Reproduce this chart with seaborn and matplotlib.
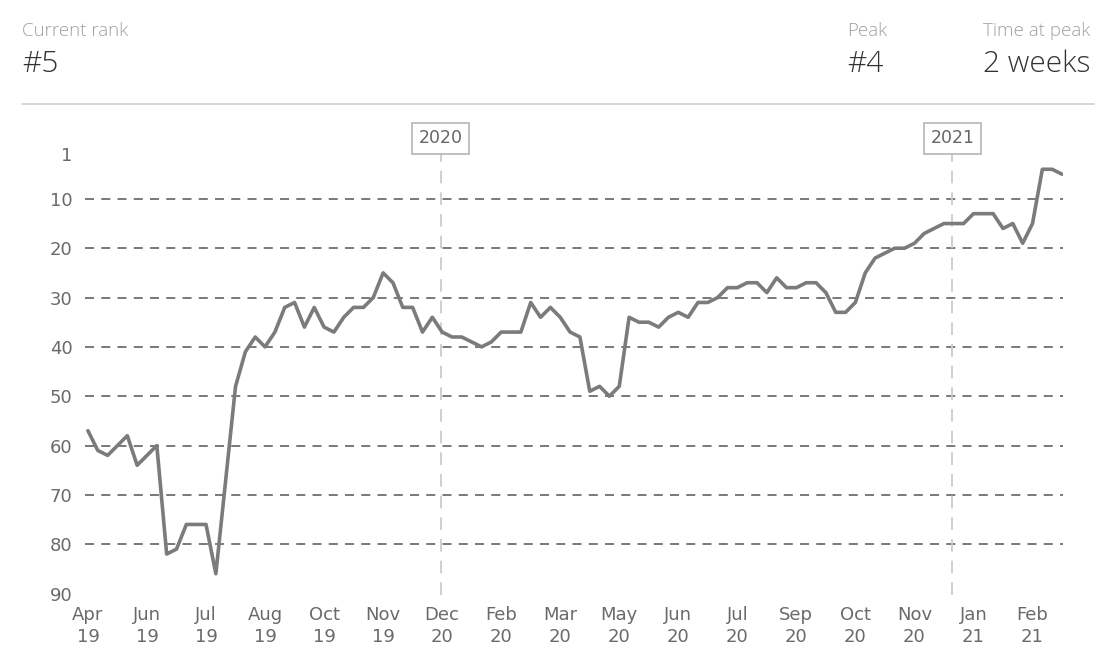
import matplotlib
matplotlib.use("Agg")
import matplotlib.pyplot as plt
import seaborn as sns
import pandas as pd

# ---- data ----
ranks = [57, 61, 62, 60, 58, 64, 62, 60, 82, 81,
         76, 76, 76, 86, 67, 48, 41, 38, 40, 37,
         32, 31, 36, 32, 36, 37, 34, 32, 32, 30,
         25, 27, 32, 32, 37, 34, 37, 38, 38, 39,
         40, 39, 37, 37, 37, 31, 34, 32, 34, 37,
         38, 49, 48, 50, 48, 34, 35, 35, 36, 34,
         33, 34, 31, 31, 30, 28, 28, 27, 27, 29,
         26, 28, 28, 27, 27, 29, 33, 33, 31, 25,
         22, 21, 20, 20, 19, 17, 16, 15, 15, 15,
         13, 13, 13, 16, 15, 19, 15, 4, 4, 5]
weeks = list(range(len(ranks)))
tick_labels = ["Apr\n19", "Jun\n19", "Jul\n19", "Aug\n19", "Oct\n19", "Nov\n19",
               "Dec\n20", "Feb\n20", "Mar\n20", "May\n20", "Jun\n20", "Jul\n20",
               "Sep\n20", "Oct\n20", "Nov\n20", "Jan\n21", "Feb\n21"]
tick_positions = [i * 6 for i in range(len(tick_labels))]
year_labels = ["2020", "2021"]
year_positions = [35.85, 87.85]
y_ticks = [1, 10, 20, 30, 40, 50, 60, 70, 80, 90]
grid_ranks = [10, 20, 30, 40, 50, 60, 70, 80]

df = pd.DataFrame({"week": weeks, "rank": ranks})

sns.set_theme(style="white")
plt.rcParams["font.family"] = ["DejaVu Sans"]

fig = plt.figure(figsize=(11.07, 6.56), dpi=100)
ax = fig.add_axes([85 / 1107, 1 - 595 / 656, (1063 - 85) / 1107, (595 - 153) / 656])

for g in grid_ranks:
    ax.axhline(g, color="#6e6e6e", lw=1.3, ls=(0, (5, 4)), zorder=1)

for xp, lab in zip(year_positions, year_labels):
    ax.axvline(xp, color="#cccccc", lw=1.3, ls=(0, (7, 5)), zorder=1)
    ax.annotate(lab, xy=(xp, 1.0), xycoords=ax.get_xaxis_transform(),
                xytext=(0, 10.5), textcoords="offset points",
                ha="center", va="center", fontsize=12.5, color="#666666",
                bbox=dict(boxstyle="square,pad=0.38", fc="white", ec="#bbbbbb", lw=1.3),
                annotation_clip=False)

sns.lineplot(data=df, x="week", y="rank", ax=ax, color="#7b7b7b", lw=2.6, zorder=3)

ax.set_xlim(-0.3, 99.1)
ax.set_ylim(90.3, 0.7)
ax.set_yticks(y_ticks)
ax.set_yticklabels([str(v) for v in y_ticks])
ax.set_xticks(tick_positions)
ax.set_xticklabels(tick_labels, linespacing=1.25)
ax.tick_params(axis="both", length=0, labelsize=13, colors="#6a6a6a")
ax.tick_params(axis="y", pad=9)
ax.tick_params(axis="x", pad=8)
ax.set_xlabel("")
ax.set_ylabel("")
for s in ax.spines.values():
    s.set_visible(False)

# header
hdr_font = ["Open Sans", "DejaVu Sans"]
small = dict(fontsize=13.5, color="#a0a0a0", family=hdr_font, fontweight="light",
             va="center", ha="left")
big = dict(fontsize=21.5, color="#333333", family=hdr_font, fontweight="light",
           va="center", ha="left")
fig.text(22 / 1107, 1 - 31 / 656, "Current rank", **small)
fig.text(22 / 1107, 1 - 64 / 656, "#5", **big)
fig.text(847 / 1107, 1 - 31 / 656, "Peak", **small)
fig.text(847 / 1107, 1 - 64 / 656, "#4", **big)
fig.text(983 / 1107, 1 - 31 / 656, "Time at peak", **small)
fig.text(983 / 1107, 1 - 64 / 656, "2 weeks", **big)
fig.add_artist(plt.Line2D([22 / 1107, 1094 / 1107], [1 - 104 / 656, 1 - 104 / 656],
                          color="#d0d0d0", lw=1.2, transform=fig.transFigure))

fig.savefig("out.png", dpi=100)
